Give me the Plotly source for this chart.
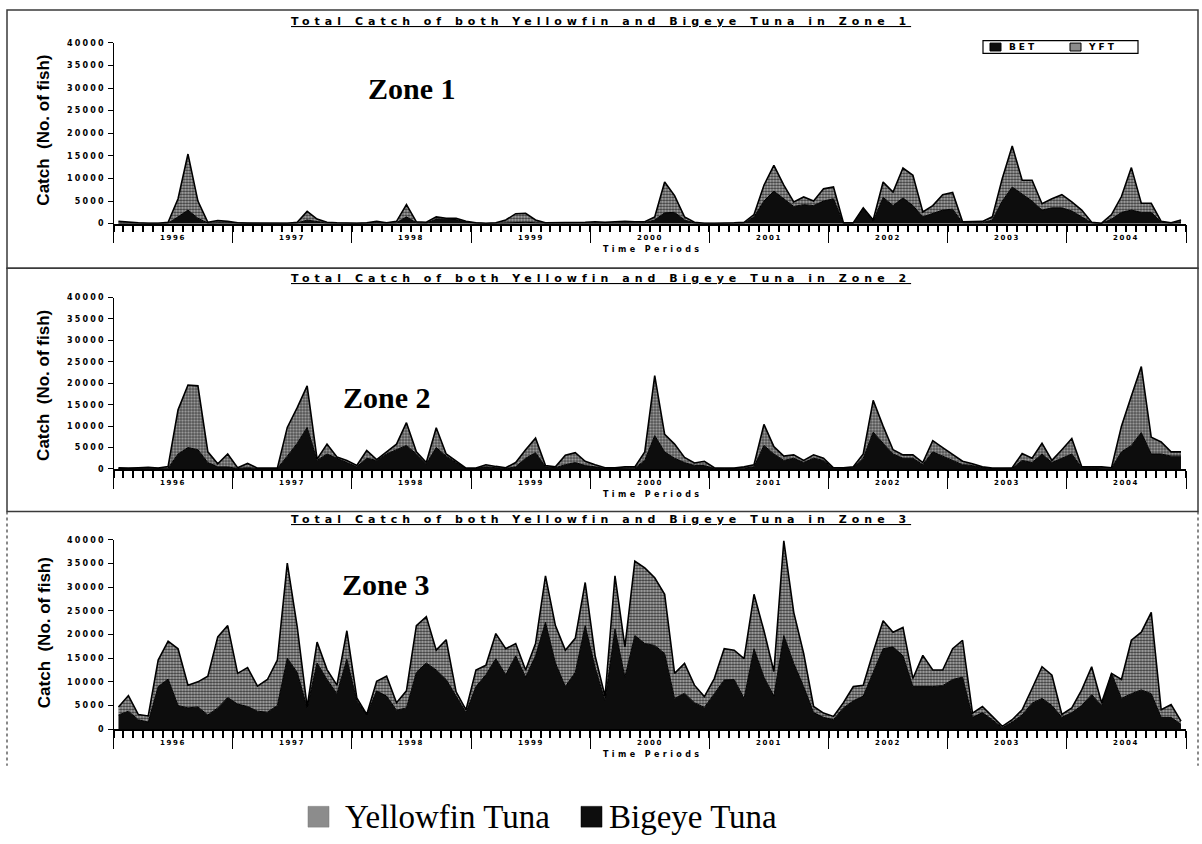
import plotly.graph_objects as go

# ---------------- data (monthly, Jan 1996 .. Dec 2004) ----------------
years = ["1996", "1997", "1998", "1999", "2000", "2001", "2002", "2003", "2004"]
months = list(range(108))

zone1_bet = [100, 100, 50, 50, 50, 100, 1500, 3000, 1200, 100, 200, 200,
             50, 50, 50, 50, 50, 50, 100, 800, 400, 100, 100, 50,
             50, 100, 200, 100, 200, 1500, 200, 100, 1000, 900, 900, 300,
             100, 50, 100, 200, 300, 300, 200, 100, 100, 100, 100, 100,
             200, 100, 200, 200, 200, 200, 800, 2400, 2500, 800, 100, 50,
             50, 50, 100, 100, 1500, 5000, 7200, 5500, 3800, 4200, 4000, 5000,
             5500, 100, 100, 3300, 500, 5800, 4000, 5700, 4000, 1500, 2200, 3000,
             3200, 200, 200, 200, 800, 5000, 8100, 6500, 5000, 3000, 3500, 3500,
             2800, 1500, 200, 50, 1000, 2500, 3000, 2500, 2500, 300, 100, 400]
zone1_yft = [400, 200, 150, 50, 50, 200, 4000, 12400, 3800, 200, 500, 300,
             150, 50, 50, 50, 50, 50, 200, 1900, 600, 200, 100, 50,
             50, 100, 300, 100, 300, 2700, 200, 200, 500, 300, 300, 200,
             100, 50, 100, 600, 1900, 2000, 600, 100, 100, 200, 200, 200,
             200, 200, 200, 300, 200, 200, 700, 6800, 3700, 700, 200, 50,
             50, 50, 100, 200, 500, 3500, 5700, 3000, 1000, 1700, 1000, 2700,
             2600, 100, 100, 200, 300, 3400, 3000, 6600, 6700, 1100, 1800, 3400,
             3700, 200, 300, 300, 700, 5000, 9100, 3100, 4600, 1400, 2000, 2900,
             2000, 1500, 100, 50, 1000, 3500, 9400, 2000, 2000, 200, 100, 400]

zone2_bet = [100, 100, 100, 100, 100, 200, 3500, 5000, 4500, 1500, 500, 500,
             100, 300, 100, 100, 100, 3000, 6000, 9700, 2000, 3500, 2500, 1500,
             500, 2500, 2000, 3500, 4500, 5500, 3500, 1200, 5000, 3000, 1500, 100,
             100, 500, 300, 100, 500, 2500, 3800, 500, 300, 1000, 1500, 800,
             500, 100, 100, 200, 200, 2000, 7800, 4000, 2500, 1500, 800, 800,
             100, 100, 100, 200, 500, 5500, 3500, 2000, 2500, 1500, 2500, 2000,
             200, 200, 300, 2500, 8600, 6000, 3500, 2500, 2500, 1000, 4000, 3000,
             2000, 1000, 800, 300, 100, 100, 100, 2000, 1500, 3500, 1500, 2500,
             3500, 300, 300, 300, 200, 4000, 5500, 8500, 3500, 3500, 3000, 3000]
zone2_yft = [200, 100, 200, 300, 100, 400, 10300, 14600, 14900, 2500, 700, 3000,
             200, 1000, 100, 100, 100, 6700, 8300, 9700, 300, 2300, 300, 500,
             300, 1800, 200, 500, 1300, 5300, 500, 300, 4600, 500, 300, 100,
             100, 500, 300, 200, 1000, 2000, 3400, 300, 200, 2200, 2300, 1000,
             500, 200, 200, 300, 300, 2000, 14000, 4100, 3300, 1200, 600, 1000,
             200, 100, 100, 300, 500, 4900, 1700, 1000, 800, 500, 800, 500,
             100, 100, 200, 1000, 7400, 4000, 1000, 800, 800, 500, 2600, 2000,
             1500, 800, 400, 200, 100, 100, 200, 1600, 1000, 2500, 500, 2000,
             3600, 200, 200, 200, 100, 6000, 11500, 15400, 3900, 2800, 1000, 1000]

zone3_bet = [3000, 3800, 2000, 1500, 9000, 10600, 5000, 4500, 4700, 3000, 4500, 6700,
             5300, 4800, 3800, 3600, 5000, 15000, 12000, 4500, 14000, 10500, 7500, 14800,
             6000, 3000, 8100, 7000, 4000, 4500, 12000, 14000, 12500, 10500, 7000, 3500,
             9000, 11500, 14900, 11500, 15500, 11000, 15500, 22600, 14000, 9000, 12000, 21900,
             13000, 6000, 21200, 11000, 19800, 18100, 17700, 16000, 6500, 7600, 5600, 4600,
             7500, 10400, 10500, 6500, 17000, 11000, 7000, 19800, 13900, 9000, 3500, 2500,
             2000, 4500, 6000, 7000, 12000, 17000, 17400, 15500, 9000, 9000, 9000, 9200,
             10500, 11000, 2500, 3500, 2000, 300, 1500, 3000, 5500, 6500, 5000, 2500,
             3500, 5000, 7300, 5000, 11800, 6500, 7500, 8300, 7500, 2500, 2500, 1000]
zone3_yft = [1700, 3300, 1100, 1300, 5600, 8000, 12000, 4800, 5300, 8200, 15000, 15200,
             6500, 8200, 5300, 6900, 9600, 20100, 9600, 200, 4400, 2100, 1800, 6000,
             600, 100, 2000, 4200, 1600, 3600, 9900, 9800, 4200, 8400, 900, 600,
             3500, 2000, 5300, 5500, 2600, 1500, 2600, 9800, 7900, 7700, 7200, 9100,
             2500, 900, 11200, 6400, 15700, 16000, 14300, 12500, 5300, 6300, 3700, 2300,
             3200, 6600, 6200, 8400, 11500, 9800, 5200, 20000, 10800, 7000, 1300, 900,
             700, 1100, 3000, 2300, 4300, 5900, 3100, 6000, 1700, 6600, 3500, 3300,
             6500, 7800, 900, 1300, 700, 300, 500, 1100, 3100, 6700, 6400, 600,
             1000, 3300, 5900, 600, 0, 4000, 11300, 12200, 17200, 1600, 2700, 700]

zones = [("Zone 1", zone1_bet, zone1_yft),
         ("Zone 2", zone2_bet, zone2_yft),
         ("Zone 3", zone3_bet, zone3_yft)]

y_ticks = [0, 5000, 10000, 15000, 20000, 25000, 30000, 35000, 40000]

# ---------------- figure ----------------
W, H = 1202, 844
def px(x):
    return x / W
def py(y):
    return 1 - y / H

x_dom = [px(113.5), px(1186)]
base_px = [222, 470, 733]
top_px = [39.3, 296.7, 541.7]
y_doms = [[py(b), py(t)] for b, t in zip(base_px, top_px)]

fig = go.Figure()
layout = dict(width=W, height=H, margin=dict(l=0, r=0, t=0, b=0),
              paper_bgcolor="white", plot_bgcolor="white", showlegend=False)

annotations = []
shapes = []

SMALL = "DejaVu Sans"
def spaced(txt, ls):
    return '<span style="letter-spacing:%spx"><b>%s</b></span>' % (ls, txt)

def note(x, y, text, font, xanchor="center", **kw):
    d = dict(x=x, y=y, xref="paper", yref="paper", text=text, showarrow=False,
             xanchor=xanchor, yanchor="middle", font=font)
    d.update(kw)
    return d

year_bounds = [12 * k - 0.5 for k in range(10)]

YFT_BG = "#bcbcbc"
for zi, (zname, bet, yft) in enumerate(zones):
    n = zi + 1
    xa = "x" if n == 1 else "x%d" % n
    ya = "y" if n == 1 else "y%d" % n
    sg = "zone%d" % n
    fig.add_trace(go.Scatter(x=months, y=bet, xaxis=xa, yaxis=ya, stackgroup=sg,
                             mode="lines", line=dict(color="black", width=1),
                             fillcolor="#0d0d0d", name="BET"))
    fig.add_trace(go.Scatter(x=months, y=yft, xaxis=xa, yaxis=ya, stackgroup=sg,
                             mode="lines", line=dict(color="black", width=1.6),
                             fillcolor=YFT_BG,
                             fillpattern=dict(shape=".", fgcolor="#303030", bgcolor=YFT_BG,
                                              size=3, solidity=0.5, fillmode="replace"),
                             name="YFT"))
    xkey = "xaxis" if n == 1 else "xaxis%d" % n
    ykey = "yaxis" if n == 1 else "yaxis%d" % n
    layout[xkey] = dict(domain=x_dom, anchor=ya, range=[-0.5, 107.5],
                        showgrid=False, zeroline=False, showline=True,
                        linecolor="black", linewidth=1.5,
                        tickmode="array", tickvals=year_bounds, ticks="outside",
                        ticklen=18, tickwidth=1.2, tickcolor="black",
                        showticklabels=False,
                        minor=dict(tickmode="linear", tick0=-0.5, dtick=1, ticks="outside",
                                   ticklen=7, tickwidth=1.8, tickcolor="black"))
    layout[ykey] = dict(domain=y_doms[zi], anchor=xa, range=[0, 40000],
                        showgrid=False, zeroline=False, showline=True,
                        linecolor="black", linewidth=1,
                        tickmode="array", tickvals=y_ticks,
                        ticktext=[spaced(str(v), 2.2) for v in y_ticks],
                        ticks="outside", ticklen=5, tickcolor="black",
                        tickfont=dict(family=SMALL, size=8, color="black"))

    # year labels
    for k, yr in enumerate(years):
        annotations.append(dict(x=12 * k + 5.5, y=0, xref=xa, yref=ya + " domain",
                                text=spaced(yr, 1.6), showarrow=False, yshift=-14,
                                xanchor="center", yanchor="middle",
                                font=dict(family=SMALL, size=7, color="black")))

# titles, zone labels, axis titles, "Time Periods"
title_y = [18, 277, 521]
zone_pos = [(412, 85), (387, 398), (386, 587)]
ytitle_y = [128, 386, 636]
for zi in range(3):
    annotations.append(note(
        0.5, py(title_y[zi]),
        '<span style="letter-spacing:5px;text-decoration:underline"><b>'
        'Total Catch of both Yellowfin and Bigeye Tuna in Zone %d</b></span>' % (zi + 1),
        dict(family=SMALL, size=11, color="black")))
    annotations.append(note(
        px(zone_pos[zi][0]), py(zone_pos[zi][1]), "<b>Zone %d</b>" % (zi + 1),
        dict(family="Liberation Serif", size=30, color="black")))
    annotations.append(note(
        px(44), py(ytitle_y[zi]), "<b>Catch  (No. of fish)</b>",
        dict(family="Liberation Sans", size=17, color="black"), textangle=-90))
    annotations.append(note(
        px(653), py(base_px[zi] + 26), spaced("Time Periods", 3.4),
        dict(family=SMALL, size=8, color="black")))

# panel frames
frame_col = "#3a3a3a"
shapes.append(dict(type="rect", xref="paper", yref="paper", x0=px(7), x1=px(1198),
                   y0=py(267), y1=py(6), line=dict(color=frame_col, width=1.5)))
shapes.append(dict(type="rect", xref="paper", yref="paper", x0=px(7), x1=px(1198),
                   y0=py(513), y1=py(267), line=dict(color=frame_col, width=1.5)))
for (xa0, ya0, xa1, ya1) in [(7, 513, 7, 770), (1198, 513, 1198, 770)]:
    shapes.append(dict(type="line", xref="paper", yref="paper", x0=px(xa0), x1=px(xa1),
                       y0=py(ya0), y1=py(ya1), line=dict(color=frame_col, width=1.2, dash="dot")))

# small legend box in zone 1
shapes.append(dict(type="rect", xref="paper", yref="paper", x0=px(983), x1=px(1138),
                   y0=py(50), y1=py(37), line=dict(color="black", width=1.2), fillcolor="white"))
shapes.append(dict(type="rect", xref="paper", yref="paper", x0=px(990), x1=px(1001),
                   y0=py(47.5), y1=py(39.5), line=dict(color="black", width=1), fillcolor="#0d0d0d"))
shapes.append(dict(type="rect", xref="paper", yref="paper", x0=px(1070), x1=px(1081),
                   y0=py(47.5), y1=py(39.5), line=dict(color="black", width=1), fillcolor="#8c8c8c"))
annotations.append(note(px(1007), py(43.5), spaced("BET", 3),
                        dict(family=SMALL, size=9, color="black"), xanchor="left"))
annotations.append(note(px(1086), py(43.5), spaced("YFT", 3),
                        dict(family=SMALL, size=9, color="black"), xanchor="left"))

# bottom legend
shapes.append(dict(type="rect", xref="paper", yref="paper", x0=px(308), x1=px(329),
                   y0=py(832), y1=py(811), line=dict(color="#777", width=0.5), fillcolor="#8c8c8c"))
shapes.append(dict(type="rect", xref="paper", yref="paper", x0=px(581), x1=px(602),
                   y0=py(832), y1=py(811), line=dict(color="black", width=0.5), fillcolor="#0d0d0d"))
annotations.append(note(px(343), py(822), "Yellowfin Tuna",
                        dict(family="Liberation Serif", size=33, color="black"), xanchor="left"))
annotations.append(note(px(607), py(822), "Bigeye Tuna",
                        dict(family="Liberation Serif", size=33, color="black"), xanchor="left"))

layout["annotations"] = annotations
layout["shapes"] = shapes
fig.update_layout(**layout)

fig.write_html("out.html", config=dict(displayModeBar=False),
               post_script="document.body.style.margin='0px';document.body.style.overflow='hidden';")
